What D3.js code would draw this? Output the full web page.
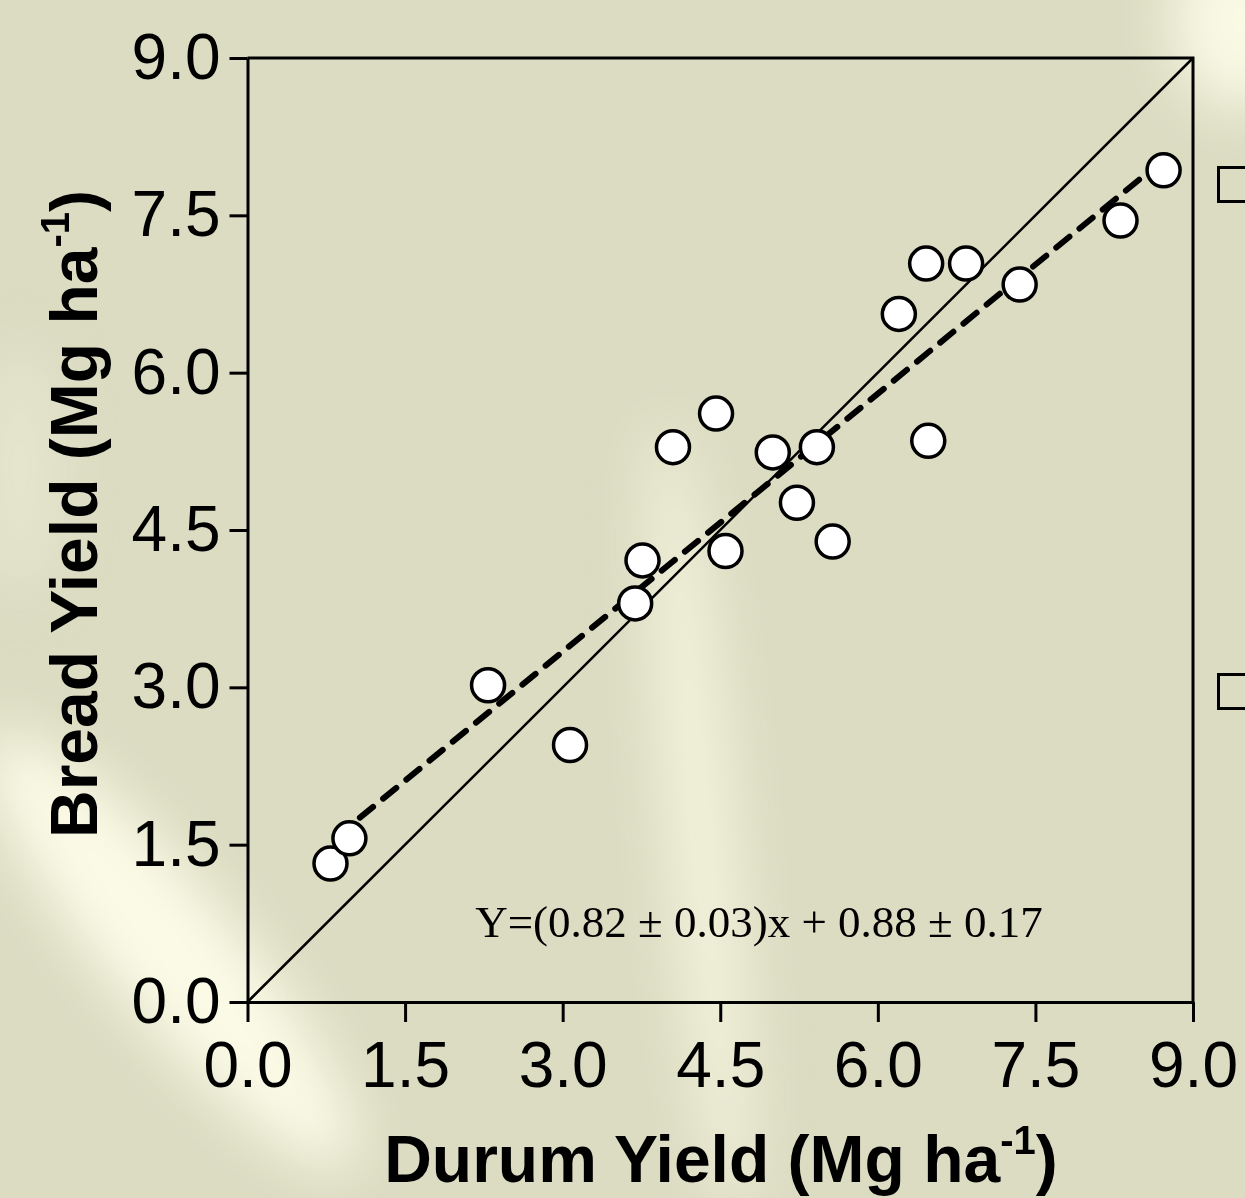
<!DOCTYPE html>
<html>
<head>
<meta charset="utf-8">
<script src="https://cdn.jsdelivr.net/npm/d3@7"></script>
<style>
  html, body { margin: 0; padding: 0; background: #dcdcc3; }
  svg { display: block; }
</style>
</head>
<body>
<div id="my_dataviz"></div>
<script>
// data
var durum = [0.79, 0.97, 2.29, 3.07, 3.69, 3.76, 4.05, 4.46, 4.55, 5.00,
             5.42, 5.23, 5.57, 6.20, 6.46, 6.48, 6.84, 7.35, 8.31, 8.72];
var bread = [1.32, 1.56, 3.02, 2.45, 3.80, 4.21, 5.29, 5.61, 4.30, 5.24,
             5.29, 4.76, 4.39, 6.56, 7.04, 5.35, 7.04, 6.84, 7.45, 7.93];
var ticks = [0, 1.5, 3.0, 4.5, 6.0, 7.5, 9.0];
var fitSlope = 0.82, fitIntercept = 0.88;
var fitRange = [1.07, 8.55];
var eqLabel = "Y=(0.82 \u00b1 0.03)x + 0.88 \u00b1 0.17";

var W = 1245, H = 1198;

var svg = d3.select("#my_dataviz")
  .append("svg")
  .attr("width", W)
  .attr("height", H);

// textured background (soft light streaks)
var defs = svg.append("defs");
defs.append("filter").attr("id", "blur")
  .attr("x", "-50%").attr("y", "-50%").attr("width", "200%").attr("height", "200%")
  .append("feGaussianBlur").attr("stdDeviation", 28);

svg.append("rect").attr("width", W).attr("height", H).attr("fill", "#dcdcc3");
var bg = svg.append("g").attr("filter", "url(#blur)");
bg.append("ellipse").attr("cx", 170).attr("cy", 950).attr("rx", 65).attr("ry", 280)
  .attr("transform", "rotate(-40,170,950)").attr("fill", "#fcfce8").attr("opacity", 0.95);
bg.append("ellipse").attr("cx", 700).attr("cy", 820).attr("rx", 35).attr("ry", 400)
  .attr("transform", "rotate(-5,700,820)").attr("fill", "#f8f8e2").attr("opacity", 0.8);
bg.append("ellipse").attr("cx", 1240).attr("cy", 20).attr("rx", 70).attr("ry", 90)
  .attr("fill", "#fcfce8").attr("opacity", 0.9);
bg.append("ellipse").attr("cx", 20).attr("cy", 470).attr("rx", 40).attr("ry", 120)
  .attr("fill", "#e8e9d2").attr("opacity", 0.8);

// scales
var x = d3.scaleLinear().domain([0, 9]).range([247.5, 1193]);
var y = d3.scaleLinear().domain([0, 9]).range([1002, 58]);

var fontSans = "'Liberation Sans', Arial, sans-serif";

// frame (top and right)
svg.append("path")
  .attr("d", "M" + x(0) + "," + y(9) + "H" + x(9) + "V" + y(0))
  .attr("fill", "none").attr("stroke", "#000").attr("stroke-width", 3);

// axes
var xAxis = svg.append("g")
  .attr("transform", "translate(0," + y(0) + ")")
  .call(d3.axisBottom(x).tickValues(ticks).tickFormat(d3.format(".1f"))
    .tickSize(20).tickSizeOuter(0).tickPadding(20));
var yAxis = svg.append("g")
  .attr("transform", "translate(" + x(0) + ",0)")
  .call(d3.axisLeft(y).tickValues(ticks).tickFormat(d3.format(".1f"))
    .tickSize(18).tickSizeOuter(0).tickPadding(9));

[xAxis, yAxis].forEach(function (a) {
  a.select(".domain").attr("stroke-width", 3);
  a.selectAll(".tick line").attr("stroke-width", 3);
  a.selectAll(".tick text")
    .attr("font-family", fontSans)
    .attr("font-size", 64)
    .attr("fill", "#000");
});

// 1:1 line
svg.append("line")
  .attr("x1", x(0)).attr("y1", y(0))
  .attr("x2", x(9)).attr("y2", y(9))
  .attr("stroke", "#000").attr("stroke-width", 2.5);

// fitted line
svg.append("line")
  .attr("x1", x(fitRange[0])).attr("y1", y(fitSlope * fitRange[0] + fitIntercept))
  .attr("x2", x(fitRange[1])).attr("y2", y(fitSlope * fitRange[1] + fitIntercept))
  .attr("stroke", "#000").attr("stroke-width", 6)
  .attr("stroke-dasharray", "17,13").attr("stroke-linecap", "round");

// points
svg.selectAll("circle.pt")
  .data(durum)
  .enter()
  .append("circle")
  .attr("class", "pt")
  .attr("cx", function (d) { return x(d); })
  .attr("cy", function (d, i) { return y(bread[i]); })
  .attr("r", 16.5)
  .attr("fill", "#fff")
  .attr("stroke", "#000")
  .attr("stroke-width", 3.5);

// equation
svg.append("text")
  .attr("x", 759).attr("y", 937)
  .attr("text-anchor", "middle")
  .attr("font-family", "'Liberation Serif', 'Times New Roman', serif")
  .attr("font-size", 45)
  .attr("fill", "#000")
  .text(eqLabel);

// axis titles
var xt = svg.append("text")
  .attr("x", 721).attr("y", 1182)
  .attr("text-anchor", "middle")
  .attr("font-family", fontSans).attr("font-weight", "bold")
  .attr("font-size", 66).attr("fill", "#000");
xt.append("tspan").text("Durum Yield (Mg ha");
xt.append("tspan").attr("font-size", 40).attr("dy", -28).text("-1");
xt.append("tspan").attr("dy", 28).text(")");

var yt = svg.append("text")
  .attr("transform", "translate(97,514) rotate(-90)")
  .attr("text-anchor", "middle")
  .attr("font-family", fontSans).attr("font-weight", "bold")
  .attr("font-size", 66).attr("fill", "#000");
yt.append("tspan").text("Bread Yield (Mg ha");
yt.append("tspan").attr("font-size", 40).attr("dy", -28).text("-1");
yt.append("tspan").attr("dy", 28).text(")");

// partly visible boxes at the right edge
[166, 673].forEach(function (top) {
  svg.append("rect")
    .attr("x", 1218.5).attr("y", top + 1.5)
    .attr("width", 60).attr("height", 34)
    .attr("fill", "none").attr("stroke", "#000").attr("stroke-width", 3);
});
</script>
</body>
</html>
